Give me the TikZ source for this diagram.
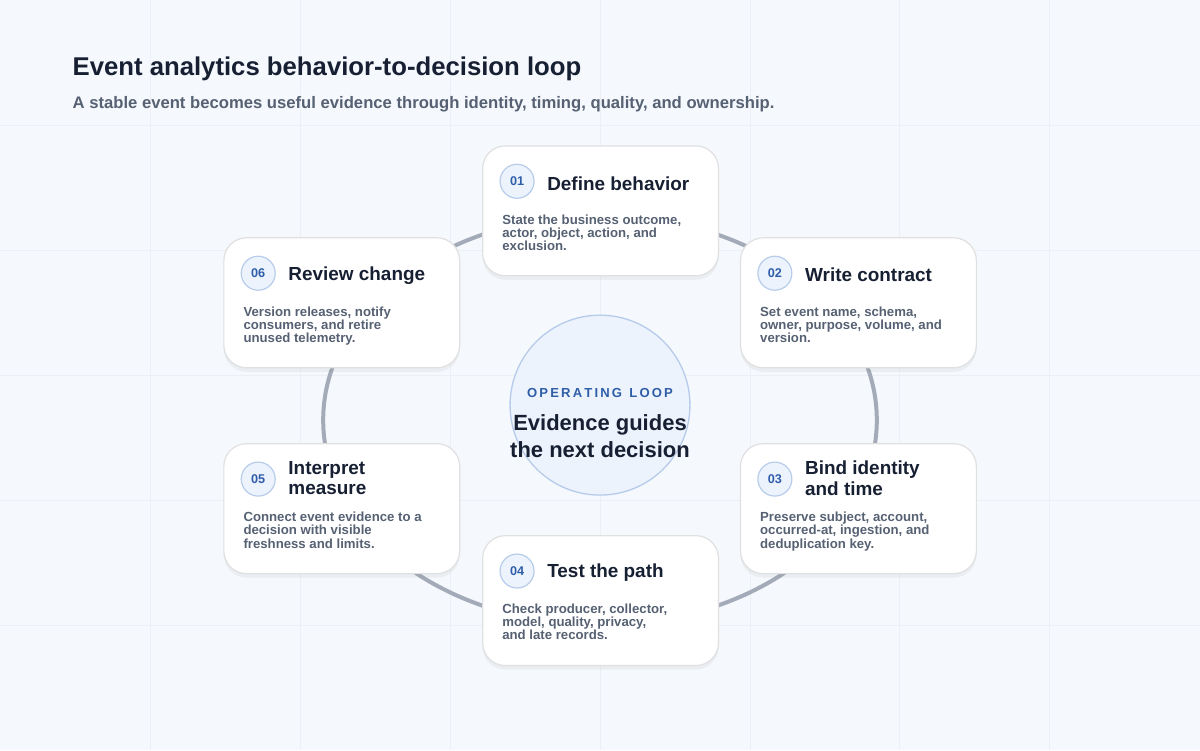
\documentclass[tikz,border=0pt]{standalone}
\usepackage{fontspec}
\setmainfont{Liberation Sans}
\usetikzlibrary{positioning, shadows}
\definecolor{inkdark}{HTML}{172033}
\definecolor{inkgray}{HTML}{566173}
\definecolor{loopblue}{HTML}{2F5EA8}
\definecolor{ringgray}{HTML}{A4ABB8}
\definecolor{paleblue}{HTML}{EDF3FD}
\definecolor{edgeblue}{HTML}{B7CCEB}
\definecolor{canvas}{HTML}{F5F8FC}
\definecolor{gridline}{HTML}{ECF0F6}
\tikzset{
  card/.style={draw=black!12, fill=white, rounded corners=17, line width=0.9,
    minimum width=177pt, minimum height=97.5pt, anchor=north west,
    drop shadow={shadow xshift=0pt, shadow yshift=-3pt, opacity=0.07, fill=black!60}},
  badge/.style={circle, draw=edgeblue, fill=paleblue, line width=0.9,
    minimum size=25.5pt, inner sep=0pt, text=loopblue, font=\bfseries\fontsize{9.5}{10}\selectfont},
  headline/.style={anchor=west, align=left, text=inkdark, inner sep=0pt,
    font=\bfseries\fontsize{14.2}{15.5}\selectfont},
  blurb/.style={anchor=north west, align=left, text=inkgray, inner sep=0pt,
    font=\bfseries\fontsize{9.9}{9.8}\selectfont}
}
\begin{document}
\begin{tikzpicture}[x=0.75pt, y=-0.75pt]
  % Background
  \fill[canvas] (0,0) rectangle (1200,750);
  \foreach \g in {150,300,...,1050}
    \draw[gridline, line width=0.6] (\g,0) -- (\g,750);
  \foreach \g in {125,250,...,625}
    \draw[gridline, line width=0.6] (0,\g) -- (1200,\g);
  \useasboundingbox (0,0) rectangle (1200,750);

  % Heading
  \node[anchor=west, inner sep=0pt, text=inkdark, font=\bfseries\fontsize{19.3}{21}\selectfont] (title) at (72,68) {Event analytics behavior-to-decision loop};
  \node[anchor=west, inner sep=0pt, text=inkgray, font=\bfseries\fontsize{12.5}{14}\selectfont] (subtitle) at (72,104) {A stable event becomes useful evidence through identity, timing, quality, and ownership.};

  % Ring
  \draw[ringgray, line width=3] (600,420) ellipse [x radius=277, y radius=205];

  % Centre
  \node[circle, draw=edgeblue, fill=paleblue, line width=1, minimum size=135pt] (hub) at (600,405) {};
  \node[text=loopblue, font=\bfseries\fontsize{9.8}{10}\selectfont, inner sep=0pt] (hubtag) at (600,393) {O\,P\,E\,R\,A\,T\,I\,N\,G\;\;L\,O\,O\,P};
  \node[text=inkdark, align=center, font=\bfseries\fontsize{16.5}{20}\selectfont, inner sep=0pt] (hubtext) at (600,436) {Evidence guides\\the next decision};

  % Cards
  \foreach \n/\cx/\cy/\dy/\head/\body in {
    01/482/145/38/{Define behavior}/{State the business outcome,\\actor, object, action, and\\exclusion.},
    02/740/237/38/{Write contract}/{Set event name, schema,\\owner, purpose, volume, and\\version.},
    03/740/443/35/{Bind identity\\and time}/{Preserve subject, account,\\occurred-at, ingestion, and\\deduplication key.},
    04/482/535/38/{Test the path}/{Check producer, collector,\\model, quality, privacy,\\and late records.},
    05/223/443/35/{Interpret\\measure}/{Connect event evidence to a\\decision with visible\\freshness and limits.},
    06/223/237/38/{Review change}/{Version releases, notify\\consumers, and retire\\unused telemetry.}}
  {
    \node[card] (card\n) at (\cx,\cy) {};
    \node[badge] (num\n) at (\cx+35,\cy+36) {\n};
    \node[headline] (head\n) at (\cx+65,\cy+\dy) {\head};
    \node[blurb] (body\n) at (\cx+20,\cy+69) {\body};
  }
\end{tikzpicture}
\end{document}
